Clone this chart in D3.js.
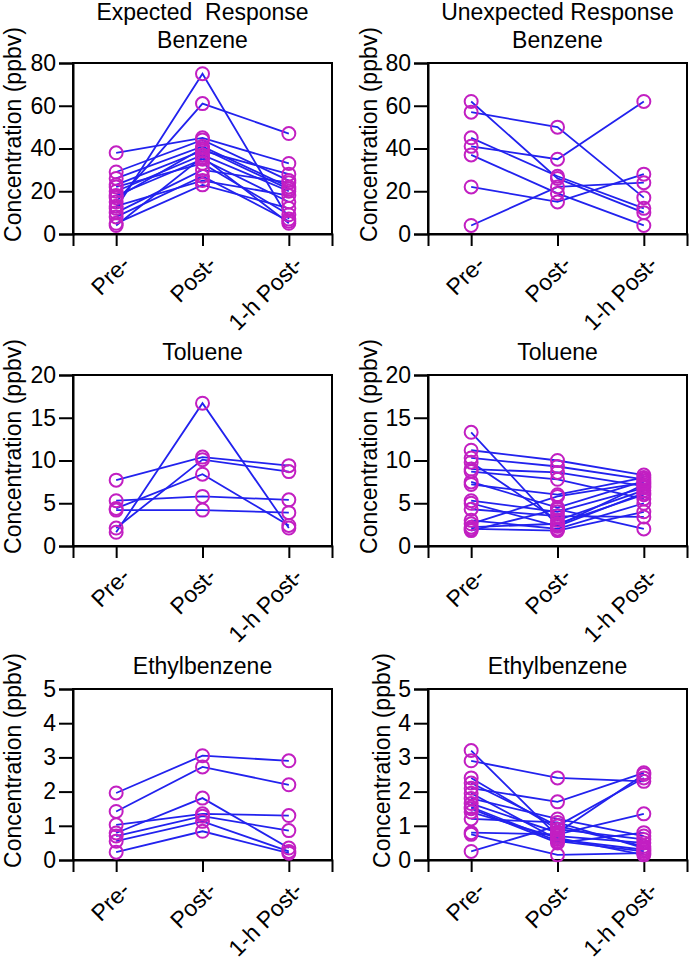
<!DOCTYPE html>
<html><head><meta charset="utf-8">
<script src="https://cdn.jsdelivr.net/npm/d3@7"></script>
<style>body{margin:0;background:#fff}svg{display:block}text{font-family:"Liberation Sans",Arial,sans-serif;fill:#000}</style>
</head><body>
<svg id="c" width="692" height="960"></svg>
<script>
const categories = ["Pre-", "Post-", "1-h Post-"];
const columnTitles = ["Expected  Response", "Unexpected Response"];
const compounds = ["Benzene", "Toluene", "Ethylbenzene"];
const yMax = [80, 20, 5];
const yTicks = [[0,20,40,60,80],[0,5,10,15,20],[0,1,2,3,4,5]];

// each row: [Pre-, Post-, 1-h Post-]
const expBenzene = [
  [38,45,33],[12,75,7],[15,61,47],[29,44,25],[26,41,22],[23,39,28],[20,37,20],
  [18,35,15],[22,33,9],[10,30,24],[8,27,6],[13,25,18],[5,23,12],[4,36,5],[17,40,21]
];
const unexpBenzene = [
  [62,26,10],[57,50,17],[45,27,12],[41,35,62],[37,19,4],[22,15,28],[4,22,24]
];
const expToluene = [
  [7.7,10.4,9.4],[1.6,16.7,2.1],[2.1,10.1,8.7],[4.4,8.4,2.4],[5.3,5.8,5.4],[4.2,4.2,3.9]
];
const unexpToluene = [
  [13.3,2.4,7.2],[11.2,10.0,8.3],[10.3,9.3,7.8],[9.8,3.0,6.5],[9.0,8.6,7.0],[8.7,7.8,5.5],
  [7.5,4.5,7.6],[7.2,6.0,8.0],[5.3,4.0,6.8],[5.0,2.3,6.2],[4.3,3.5,3.4],[3.0,2.0,5.0],
  [2.6,5.8,7.4],[2.0,1.8,4.0],[1.8,4.3,2.0],[2.2,2.6,6.0]
];
const expEthyl = [
  [1.96,3.05,2.9],[1.42,2.72,2.2],[0.79,1.81,0.35],[1.03,1.35,1.3],[0.7,1.28,0.86],
  [0.55,1.13,0.25],[0.23,0.84,0.2]
];
const unexpEthyl = [
  [3.2,0.7,0.5],[2.9,2.4,2.3],[2.4,0.9,0.6],[2.25,1.0,0.4],[2.1,1.7,2.55],[1.95,0.6,0.3],
  [1.8,1.2,0.7],[1.65,0.8,2.5],[1.5,0.5,0.8],[1.4,0.65,0.15],[1.2,1.1,0.35],[0.8,0.75,1.35],
  [0.75,0.15,0.2],[0.25,1.0,2.4],[1.55,0.55,0.25]
];
const panelData = [[expBenzene, unexpBenzene],[expToluene, unexpToluene],[expEthyl, unexpEthyl]];

const svg = d3.select("#c");
const colX = [73, 428];
const rowY = [63, 375, 689];
const W = 259, H = 171;
const lineColor = "#2222ee", circColor = "#c21fc2";
const FS = "23px";

for (let r = 0; r < 3; r++) {
  for (let c = 0; c < 2; c++) {
    const x0 = colX[c], y0 = rowY[r];
    const x = d3.scalePoint().domain(categories).range([x0, x0 + W]).padding(0.5);
    const y = d3.scaleLinear().domain([0, yMax[r]]).range([y0 + H, y0]);
    const g = svg.append("g");

    g.append("rect").attr("x", x0).attr("y", y0).attr("width", W).attr("height", H)
      .attr("fill", "none").attr("stroke", "#000").attr("stroke-width", 2);

    const ya = g.append("g").attr("transform", `translate(${x0},0)`)
      .call(d3.axisLeft(y).tickValues(yTicks[r]).tickSize(14).tickPadding(3).tickFormat(d3.format("d")));
    ya.select(".domain").attr("stroke-width", 2);
    ya.selectAll(".tick line").attr("stroke-width", 2);
    ya.selectAll("text").style("font-size", FS).attr("fill", "#000");
    let labW = 0;
    ya.selectAll("text").each(function(){ labW = Math.max(labW, this.getBBox().width); });

    const xa = g.append("g").attr("transform", `translate(0,${y0 + H})`)
      .call(d3.axisBottom(x).tickSize(12).tickPadding(4));
    xa.select(".domain").attr("stroke-width", 2);
    xa.selectAll(".tick line").attr("stroke-width", 2);
    xa.selectAll("text").style("font-size", FS).attr("fill", "#000")
      .attr("text-anchor", "end").attr("dy", "0.35em")
      .attr("transform", "translate(9,26) rotate(-45)").attr("x", 0).attr("y", 0);

    const titleOff = c === 0 ? 52 : 25 + labW;
    g.append("text").attr("transform", `translate(${x0 - titleOff},${y0 + H / 2 - 14}) rotate(-90)`)
      .attr("text-anchor", "middle").style("font-size", FS)
      .text("Concentration (ppbv)");

    if (r === 0) {
      g.append("text").attr("x", x0 + W / 2).attr("y", 20).attr("text-anchor", "middle")
        .style("font-size", FS).style("white-space", "pre").attr("xml:space", "preserve")
        .text(columnTitles[c]);
    }
    g.append("text").attr("x", x0 + W / 2).attr("y", y0 - 15).attr("text-anchor", "middle")
      .style("font-size", FS).text(compounds[r]);

    const data = panelData[r][c];
    const line = d3.line().x((d, i) => x(categories[i])).y(d => y(d));
    g.append("g").selectAll("path").data(data).join("path")
      .attr("d", line).attr("fill", "none").attr("stroke", lineColor).attr("stroke-width", 1.8);
    const pts = data.flatMap(row => row.map((v, i) => ({cat: categories[i], v})));
    g.append("g").selectAll("circle").data(pts).join("circle")
      .attr("cx", d => x(d.cat)).attr("cy", d => y(d.v)).attr("r", 6.5)
      .attr("fill", "none").attr("stroke", circColor).attr("stroke-width", 2);
  }
}
</script>
</body></html>
